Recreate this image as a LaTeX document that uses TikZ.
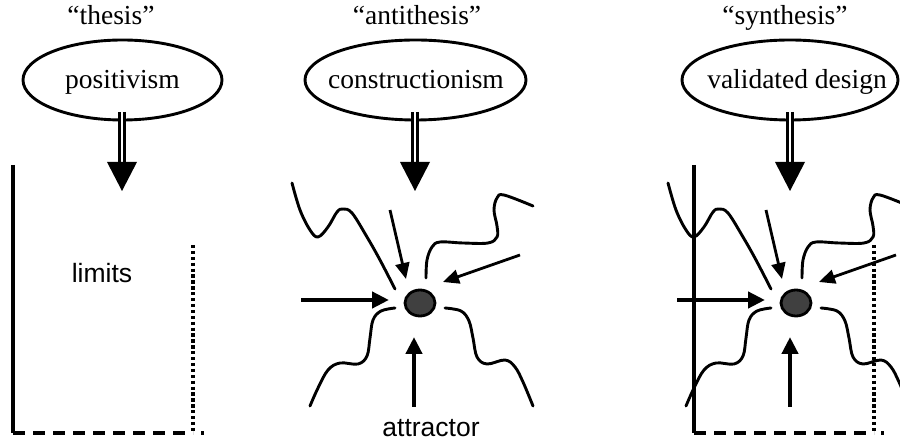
\documentclass[tikz,border=0pt]{standalone}
\usepackage{fontspec}
\setmainfont{Liberation Serif}
\setsansfont{Liberation Sans}
\usetikzlibrary{arrows.meta,shapes.geometric}
\definecolor{dotgray}{HTML}{404040}
\begin{document}
\begin{tikzpicture}[x=1pt,y=-1pt,
  oval/.style={draw, ellipse, line width=2.9pt, minimum height=80pt, inner sep=0pt},
  serif/.style={font=\fontsize{27.5}{30}\selectfont, inner sep=0pt, anchor=base},
  sans/.style={font=\sffamily\fontsize{26.5}{30}\selectfont, inner sep=0pt, anchor=base},
  shaft/.style={draw, double, line width=2.5pt, double distance=2.6pt},
  wavy/.style={line width=2.9pt, line cap=round},
  thickarrow/.style={line width=4.4pt, -{Triangle[length=17pt,width=16pt]}},
  thinarrow/.style={line width=2.8pt, -{Triangle[length=16pt,width=14pt]}},
  solidframe/.style={line width=3.6pt},
  dashedframe/.style={line width=3.5pt, dash pattern=on 12pt off 8pt},
  dottedframe/.style={line width=3.5pt, dash pattern=on 3.3pt off 2.6pt},
  dot/.style={ellipse, draw, line width=2.8pt, fill=dotgray, minimum width=30pt, minimum height=26pt, inner sep=0pt}
]
\clip (0,0) rectangle (900,443);
\fill[white] (0,0) rectangle (900,443);

% ---- titles
\node[serif] (q1) at (111,25) {“thesis”};
\node[serif] (q2) at (417,25) {“antithesis”};
\node[serif] (q3) at (785,25) {“synthesis”};

% ---- ellipses
\node[oval, minimum width=199pt] (e1) at (122.5,80) {};
\node[oval, minimum width=221pt] (e2) at (415.5,80) {};
\node[oval, minimum width=216pt] (e3) at (790,80) {};
\node[serif] (t1) at (122.5,89) {positivism};
\node[serif] (t2) at (416,89) {constructionism};
\node[serif] (t3) at (797,89) {validated design};

% ---- big downward arrows
\foreach \n/\x in {1/122,2/415,3/790}{
  \coordinate (s\n) at (\x,112);
  \coordinate (h\n) at (\x,162);
  \coordinate (p\n) at (\x,191);
  \draw[shaft] (s\n) -- (h\n);
  \fill ([xshift=-15pt]h\n) -- ([xshift=15pt]h\n) -- (p\n) -- cycle;
}

% ---- panel 1 frame
\coordinate (f1a) at (13,165);
\coordinate (f1b) at (13,433);
\coordinate (f1c) at (193,433);
\coordinate (f1d) at (193,245);
\draw[solidframe] (f1a) -- (f1b);
\draw[dashedframe] (f1b) -- (f1c);
\draw[dottedframe] (f1d) -- (f1c);
\draw[line width=3.5pt] (201,433) -- (203.5,433);
\node[sans] (lim) at (102,283) {limits};

% ---- panel 3 frame
\coordinate (f3a) at (694,165);
\coordinate (f3b) at (694,433);
\coordinate (f3c) at (874,433);
\coordinate (f3d) at (874,245);
\draw[solidframe] (f3a) -- (f3b);
\draw[dashedframe] (f3b) -- (f3c);
\draw[dottedframe] (f3d) -- (f3c);
\draw[line width=3.5pt] (881,433) -- (883.5,433);

% ---- attractor panels
\foreach \s/\n in {0/a,376/b}{
  \begin{scope}[xshift=\s]
    \node[dot] (\n-dot) at (420,303) {};
    \coordinate (\n-l0) at (301,300); \coordinate (\n-l1) at (389,300);
    \coordinate (\n-t0) at (390,210); \coordinate (\n-t1) at (406,279);
    \coordinate (\n-r0) at (520,255); \coordinate (\n-r1) at (443,282);
    \coordinate (\n-b0) at (414,407); \coordinate (\n-b1) at (414,337);
    \draw[thickarrow] (\n-l0) -- (\n-l1);
    \draw[thinarrow] (\n-t0) -- (\n-t1);
    \draw[thinarrow] (\n-r0) -- (\n-r1);
    \draw[thickarrow] (\n-b0) -- (\n-b1);
    \draw[wavy] plot[smooth, tension=0.6] coordinates {(292,183) (300,210) (310,230) (318,237) (328,227) (337,212) (343,209) (352,213) (367,237) (380,260) (395,289)};
    \draw[wavy] plot[smooth, tension=0.6] coordinates {(426,278) (427,260) (432,247) (440,242) (463,243) (488,243) (497,237) (497,226) (494,210) (497,198) (504,195) (533,206)};
    \draw[wavy] plot[smooth, tension=0.6] coordinates {(395,308) (381,311) (373,320) (370,338) (367,356) (358,364) (340,363) (328,370) (318,388) (310,406)};
    \draw[wavy] plot[smooth, tension=0.6] coordinates {(445,308) (461,311) (469,321) (473,338) (477,357) (487,364) (505,360) (515,367) (523,382) (533,406)};
  \end{scope}
}
\node[sans] (att) at (431,437) {attractor};
\end{tikzpicture}
\end{document}
